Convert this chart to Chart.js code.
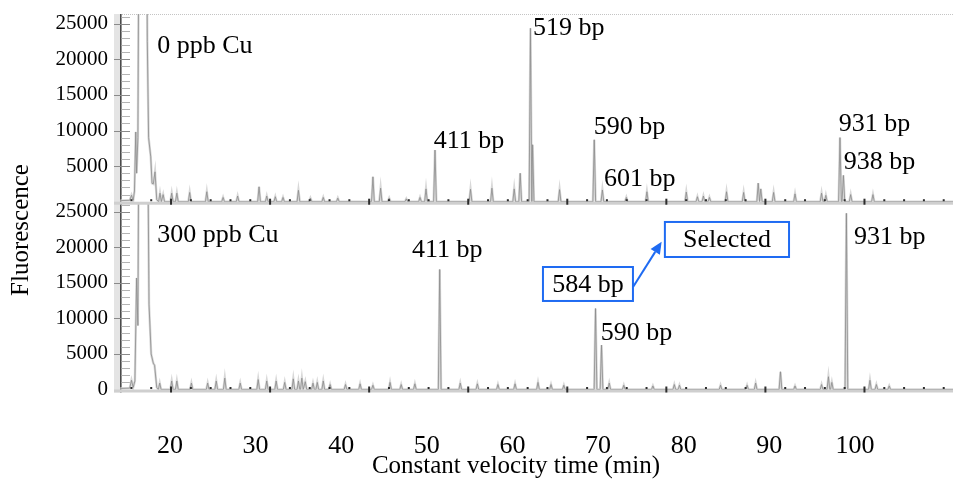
<!DOCTYPE html>
<html>
<head>
<meta charset="utf-8">
<script src="https://cdn.jsdelivr.net/npm/chart.js@4/dist/chart.umd.min.js"></script>
<style>
  html, body { margin: 0; padding: 0; background: #fff; }
  canvas { display: block; }
</style>
</head>
<body>
<canvas id="c" width="953" height="479"></canvas>
<script>
// Capillary electrophoresis traces: fluorescence vs. constant velocity time (min)
const xTicks = [20, 30, 40, 50, 60, 70, 80, 90, 100];
const yTicks = [0, 5000, 10000, 15000, 20000, 25000];

// 0 ppb Cu run: primer front, then resolved peaks
const topPrimerTime  = [14.2, 15.3, 15.5, 15.7, 15.85, 16.0, 16.1, 16.25, 16.45, 17.2, 17.35, 17.5, 17.75, 17.9, 18.05, 18.25, 18.45];
const topPrimerValue = [150, 200, 900, 200, 1500, 9800, 4000, 9000, 60000, 60000, 22500, 9000, 6300, 2600, 2500, 4200, 300];
const topPeakTime  = [18.83, 19.2, 20.2, 20.8, 22.3, 24.3, 26.2, 27.9, 30.4, 31.3, 32.3, 33.2, 35.0, 36.4, 37.9, 39.6,
                      43.7, 44.6, 45.6, 47.6, 49.2, 49.9, 50.95, 55.1, 57.6, 60.2, 60.9, 62.1, 62.35, 65.5,
                      69.55, 70.5, 73.3, 75.7, 80.3, 81.6, 82.3, 83.0, 85.0, 87.0, 88.7, 89.0, 90.5, 93.0,
                      96.1, 96.6, 98.25, 98.65, 99.5, 102.1];
const topPeakValue = [1200, 1000, 1200, 1200, 1300, 1400, 600, 800, 2100, 800, 700, 600, 1600, 500, 600, 500,
                      3500, 1900, 500, 400, 600, 1800, 7250, 1750, 1900, 1800, 4000, 24350, 8000, 1700,
                      8700, 1650, 600, 1400, 1350, 700, 800, 600, 1400, 1300, 2600, 1800, 1300, 1100,
                      1200, 900, 9000, 3700, 1000, 1000];

// 300 ppb Cu run
const botPrimerTime  = [14.2, 15.3, 15.5, 15.7, 15.9, 16.1, 16.25, 16.45, 17.25, 17.55, 17.8, 18.05, 18.2, 18.45];
const botPrimerValue = [150, 200, 1300, 300, 1200, 15700, 9000, 60000, 60000, 12000, 5000, 3700, 3400, 300];
const botPeakTime  = [18.8, 20.2, 20.8, 22.5, 24.4, 25.4, 26.4, 28.2, 30.3, 31.3, 32.4, 33.4, 34.4, 35.0, 35.4, 35.8,
                      36.7, 37.2, 37.9, 38.7, 40.5, 42.2, 43.7, 45.7, 47.0, 48.6, 51.5, 53.9, 55.9, 58.3, 60.3,
                      62.98, 64.5, 66.0, 69.7, 70.4, 71.3, 73.0, 76.4, 78.9, 79.5, 84.3, 87.4, 88.4, 91.3, 93.0,
                      96.1, 96.9, 97.3, 99.0, 101.75, 102.5, 104.0];
const botPeakValue = [900, 1200, 1200, 900, 900, 1200, 1600, 900, 1400, 1200, 1200, 1000, 1500, 1200, 1600, 1100,
                      900, 1000, 1200, 700, 700, 800, 600, 1000, 700, 800, 16900, 900, 800, 700, 800,
                      1000, 700, 600, 11400, 6250, 900, 600, 500, 700, 600, 600, 600, 900, 2500, 500,
                      700, 1800, 1000, 24800, 1300, 700, 500];

// Peak callouts: [text, time, fluorescence]
const topNotes = [
  ['0 ppb Cu', 18.5, 21870],
  ['519 bp', 62.4, 24400],
  ['411 bp', 50.8, 8500],
  ['590 bp', 69.5, 10500],
  ['601 bp', 70.7, 3200],
  ['931 bp', 98.1, 10900],
  ['938 bp', 98.7, 5550]
];
const botNotes = [
  ['300 ppb Cu', 18.5, 21750],
  ['411 bp', 48.26, 19600],
  ['590 bp', 70.3, 7950],
  ['931 bp', 99.9, 21470]
];
// Boxed callouts: [text, time from, time to, fluorescence top, fluorescence bottom]
const boxNotes = [
  ['584 bp', 63.56, 74.07, 17240, 12460],
  ['Selected', 77.8, 92.3, 23580, 18650]
];
// Arrow from the 584 bp box to "Selected": [time, fluorescence] tail and head
const arrowTail = [74.1, 14470];
const arrowHead = [77.42, 20800];

const X_MIN = 14.16, X_MAX = 111.45;
const SPIKE_HALF = 0.16;
const SERIF = '"Liberation Serif", "Times New Roman", serif';

function buildTrace(pt, pv, kt, kv) {
  const pts = pt.map((t, i) => ({ x: t, y: pv[i] }));
  kt.forEach((t, i) => {
    pts.push({ x: t - SPIKE_HALF, y: 0 }, { x: t, y: kv[i] }, { x: t + SPIKE_HALF, y: 0 });
  });
  pts.push({ x: X_MAX, y: 0 });
  return pts;
}
const topTrace = buildTrace(topPrimerTime, topPrimerValue, topPeakTime, topPeakValue);
const botTrace = buildTrace(botPrimerTime, botPrimerValue, botPeakTime, botPeakValue);

// thin grey core first so it is painted over the pale halo
function traceSets(data, axis) {
  return [
    { data, yAxisID: axis, borderColor: '#8c8c8c', borderWidth: 0.8, pointRadius: 0, fill: false },
    { data, yAxisID: axis, borderColor: '#d8d8d8', borderWidth: 2.4, pointRadius: 0, fill: false }
  ];
}

// Axis frame: shaded spine, inner minor ticks, baseline strip with instrument marks
const frame = {
  id: 'frame',
  beforeDatasetsDraw(chart) {
    const { ctx, scales } = chart;
    ctx.save();
    ctx.strokeStyle = '#c4c4c4';
    ctx.lineWidth = 1;
    ctx.setLineDash([1, 1]);
    ctx.beginPath();
    ctx.moveTo(114, chart.chartArea.top + 0.5);
    ctx.lineTo(chart.width, chart.chartArea.top + 0.5);
    ctx.stroke();
    ctx.setLineDash([]);
    ['yTop', 'yBot'].forEach(id => {
      const y = scales[id];
      const top = y.top, bottom = y.getPixelForValue(0) + 3;
      ctx.fillStyle = '#e4e4e4';
      ctx.fillRect(114, top, 6, bottom - top);
      ctx.fillStyle = '#4a4a4a';
      ctx.fillRect(120, top, 1.6, bottom - top);
      for (let v = 1000; v <= y.max; v += 1000) {
        const py = Math.round(y.getPixelForValue(v)) + 0.5;
        if (py < top + 1) continue;
        const major = v % 5000 === 0;
        ctx.strokeStyle = major ? '#8a8a8a' : '#b4b4b4';
        ctx.beginPath();
        ctx.moveTo(major ? 114 : 121.5, py);
        ctx.lineTo(130, py);
        ctx.stroke();
      }
    });
    ctx.restore();
  },
  afterDatasetsDraw(chart) {
    const { ctx, scales } = chart;
    const x = scales.x;
    ctx.save();
    ['yTop', 'yBot'].forEach(id => {
      const y = scales[id];
      const base = y.getPixelForValue(0);
      ctx.fillStyle = '#cfcfcf';
      ctx.fillRect(114, base, chart.width - 114, 3);
      const step = 2.314;
      let i = 0;
      for (let t = 20.12 - 2 * step; t <= X_MAX; t += step, i++) {
        const px = x.getPixelForValue(t);
        ctx.fillStyle = '#2e2e2e';
        if (i % 5 === 2) ctx.fillRect(px - 1, base - 3, 2, 6);
        else ctx.fillRect(px - 1, base - 2.5, 2, 2);
      }
    });
    ctx.restore();
  }
};

// Peak labels, boxed callouts, arrow and axis titles
const notes = {
  id: 'notes',
  afterDraw(chart) {
    const { ctx, scales } = chart;
    const x = scales.x, yT = scales.yTop, yB = scales.yBot;
    ctx.save();
    ctx.font = '26px ' + SERIF;
    ctx.fillStyle = '#000';
    ctx.textBaseline = 'middle';
    ctx.textAlign = 'left';
    topNotes.forEach(([s, t, v]) => ctx.fillText(s, x.getPixelForValue(t), yT.getPixelForValue(v)));
    botNotes.forEach(([s, t, v]) => ctx.fillText(s, x.getPixelForValue(t), yB.getPixelForValue(v)));

    boxNotes.forEach(([s, t0, t1, v0, v1]) => {
      const l = x.getPixelForValue(t0), r = x.getPixelForValue(t1);
      const tp = yB.getPixelForValue(v0), bt = yB.getPixelForValue(v1);
      ctx.fillStyle = '#fff';
      ctx.fillRect(l, tp, r - l, bt - tp);
      ctx.strokeStyle = '#1f6bf2';
      ctx.lineWidth = 2;
      ctx.strokeRect(l, tp, r - l, bt - tp);
      ctx.fillStyle = '#000';
      ctx.textAlign = 'center';
      ctx.fillText(s, (l + r) / 2, (tp + bt) / 2 + 1);
    });

    const ax = x.getPixelForValue(arrowTail[0]), ay = yB.getPixelForValue(arrowTail[1]);
    const bx = x.getPixelForValue(arrowHead[0]), by = yB.getPixelForValue(arrowHead[1]);
    const ang = Math.atan2(by - ay, bx - ax);
    const head = 12, wing = 5.5;
    const hx = bx - head * Math.cos(ang), hy = by - head * Math.sin(ang);
    ctx.strokeStyle = '#1f6bf2';
    ctx.lineWidth = 2;
    ctx.beginPath();
    ctx.moveTo(ax, ay);
    ctx.lineTo(hx, hy);
    ctx.stroke();
    ctx.fillStyle = '#1f6bf2';
    ctx.beginPath();
    ctx.moveTo(bx, by);
    ctx.lineTo(hx + wing * Math.sin(ang), hy - wing * Math.cos(ang));
    ctx.lineTo(hx - wing * Math.sin(ang), hy + wing * Math.cos(ang));
    ctx.closePath();
    ctx.fill();

    ctx.fillStyle = '#000';
    ctx.font = '25px ' + SERIF;
    ctx.textAlign = 'center';
    ctx.fillText('Constant velocity time (min)', 516, 466);
    ctx.translate(21, 230);
    ctx.rotate(-Math.PI / 2);
    ctx.fillText('Fluorescence', 0, 0);
    ctx.restore();
  }
};

const yCommon = (min, max, hideZero) => ({
  type: 'linear',
  position: 'left',
  stack: 'panels',
  stackWeight: 1,
  min, max,
  afterBuildTicks: s => { s.ticks = yTicks.map(v => ({ value: v })); },
  afterFit: s => { s.width = 120; s.paddingTop = 0; s.paddingBottom = 0; },
  ticks: {
    autoSkip: false,
    font: { family: SERIF, size: 21 },
    color: '#000',
    padding: 12,
    callback: v => (hideZero && v === 0) ? '' : String(v)
  },
  grid: { display: false, drawTicks: false },
  border: { display: false }
});

new Chart(document.getElementById('c'), {
  type: 'line',
  data: { datasets: [...traceSets(topTrace, 'yTop'), ...traceSets(botTrace, 'yBot')] },
  options: {
    responsive: false,
    animation: false,
    devicePixelRatio: 1,
    layout: { padding: { top: 14, right: 0, left: 0, bottom: 0 } },
    plugins: { legend: { display: false }, tooltip: { enabled: false } },
    elements: { line: { tension: 0 } },
    scales: {
      x: {
        type: 'linear',
        min: X_MIN, max: X_MAX,
        afterBuildTicks: s => { s.ticks = xTicks.map(v => ({ value: v })); },
        afterFit: s => { s.height = 89; s.paddingLeft = 0; s.paddingRight = 0; },
        ticks: { autoSkip: false, font: { family: SERIF, size: 26 }, color: '#000', padding: 41, maxRotation: 0 },
        grid: { display: false, drawTicks: false },
        border: { display: false }
      },
      yBot: yCommon(-70, 26390, false),
      yTop: yCommon(-40, 26360, true)
    }
  },
  plugins: [frame, notes]
});
</script>
</body>
</html>
